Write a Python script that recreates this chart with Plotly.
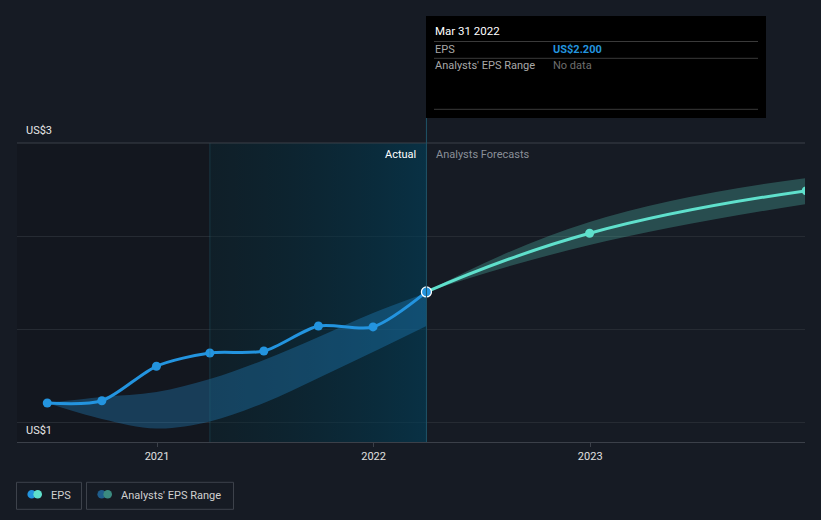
import plotly.graph_objects as go

# ---- data ----
eps_dates = ['2020-06-30', '2020-09-30', '2020-12-31', '2021-03-31',
             '2021-06-30', '2021-09-30', '2021-12-31', '2022-03-31']
eps_values = [1.143, 1.159, 1.405, 1.500, 1.514, 1.693, 1.686, 1.936]

range_low = [1.143, 1.029, 0.961, 1.011, 1.143, 1.321, 1.507, 1.693]
range_high = [1.143, 1.186, 1.221, 1.314, 1.450, 1.614, 1.786, 1.929]

fc_dates = ['2022-03-31', '2022-12-31', '2023-12-31']
fc_values = [1.936, 2.355, 2.659]
fc_low = [1.936, 2.271, 2.564]
fc_high = [1.936, 2.436, 2.750]

year_ticks = ['2021-01-01', '2022-01-01', '2023-01-01']
year_labels = ['2021', '2022', '2023']
grid_vals = [1.0, 1.6667, 2.3333, 3.0]

past_year = ['2021-03-31', '2022-03-31']
x_range = ['2020-05-10', '2023-12-29']
y_range = [0.864, 3.0]

BG = '#161b24'
BLUE = '#2394df'
MINT = '#5fe0cc'
FONT = 'Roboto'

# plot area in pixels
W, H = 821, 520
L, R, T, B = 17, 805, 143, 442


def px(x):
    return (x - L) / (R - L)


def py(y):
    return (B - y) / (B - T)


fig = go.Figure()

# last-year highlight (gradient)
fig.add_trace(go.Scatter(
    x=[past_year[0], past_year[1], past_year[1], past_year[0], past_year[0]],
    y=[y_range[0], y_range[0], y_range[1], y_range[1], y_range[0]],
    mode='none', fill='toself',
    fillgradient=dict(type='horizontal',
                      colorscale=[[0, 'rgba(0,40,50,0.30)'], [1, 'rgba(0,62,88,0.62)']]),
    hoverinfo='skip', showlegend=False
))

# analysts range (past)
fig.add_trace(go.Scatter(
    x=eps_dates, y=range_low, mode='lines',
    line=dict(width=0, shape='spline', smoothing=1),
    hoverinfo='skip', showlegend=False
))
fig.add_trace(go.Scatter(
    x=eps_dates, y=range_high, mode='lines', fill='tonexty',
    fillcolor='rgba(35,148,223,0.30)',
    line=dict(width=0, shape='spline', smoothing=1),
    hoverinfo='skip', showlegend=False
))

# forecast range
fig.add_trace(go.Scatter(
    x=fc_dates, y=fc_low, mode='lines',
    line=dict(width=0, shape='spline', smoothing=1.3),
    hoverinfo='skip', showlegend=False
))
fig.add_trace(go.Scatter(
    x=fc_dates, y=fc_high, mode='lines', fill='tonexty',
    fillcolor='rgba(88,210,190,0.28)',
    line=dict(width=0, shape='spline', smoothing=1.3),
    hoverinfo='skip', showlegend=False
))

# forecast line
fig.add_trace(go.Scatter(
    x=fc_dates, y=fc_values, mode='lines+markers',
    line=dict(color=MINT, width=3, shape='spline', smoothing=1.3),
    marker=dict(color=MINT, size=9),
    showlegend=False
))

# EPS line
fig.add_trace(go.Scatter(
    x=eps_dates, y=eps_values, mode='lines+markers',
    line=dict(color=BLUE, width=3, shape='spline', smoothing=0.8),
    marker=dict(color=BLUE, size=9),
    showlegend=False
))

# hovered point
fig.add_trace(go.Scatter(
    x=[eps_dates[-1]], y=[eps_values[-1]], mode='markers',
    marker=dict(color=BLUE, size=10, line=dict(color='white', width=1.3)),
    showlegend=False
))

shapes = [
    # darker region before last year
    dict(type='rect', xref='paper', yref='paper', x0=0, x1=px(210), y0=0, y1=1,
         fillcolor='rgba(0,0,0,0.13)', line_width=0, layer='below'),
    # faint boundary at start of last year
    dict(type='line', xref='x', yref='paper', x0=past_year[0], x1=past_year[0], y0=0, y1=1,
         line=dict(color='rgba(40,110,130,0.35)', width=1)),
    # top gridline
    dict(type='line', xref='paper', yref='paper', x0=0, x1=1, y0=1, y1=1,
         line=dict(color='#3b4049', width=1)),
    # "now" line
    dict(type='line', xref='x', yref='paper', x0=past_year[1], x1=past_year[1], y0=0, y1=py(118),
         line=dict(color='#1f5468', width=1)),
    # tooltip box
    dict(type='rect', xref='paper', yref='paper', x0=px(426), x1=px(766), y0=py(118), y1=py(16),
         fillcolor='#000000', line_width=0),
]
for yy in [41.5, 58.3, 109.3]:
    shapes.append(dict(type='line', xref='paper', yref='paper', x0=px(434), x1=px(758),
                       y0=py(yy), y1=py(yy), line=dict(color='#3a3a3a', width=1)))

# legend boxes and icons
for x0, x1 in [(16.5, 81.5), (86.5, 233.5)]:
    shapes.append(dict(type='rect', xref='paper', yref='paper', x0=px(x0), x1=px(x1),
                       y0=py(509.3), y1=py(482.3), line=dict(color='#3d424b', width=1),
                       fillcolor='rgba(0,0,0,0)'))
for cx, col in [(31.7, BLUE), (37.7, MINT), (101.7, '#1f5d8c'), (107.7, '#3b8a80')]:
    shapes.append(dict(type='circle', xref='paper', yref='paper',
                       x0=px(cx - 4.3), x1=px(cx + 4.3), y0=py(494.3 + 4.3), y1=py(494.3 - 4.3),
                       fillcolor=col, line_width=0))

ann = []


def text(x, y, s, color, size=11, anchor='left', bold=False):
    ann.append(dict(xref='paper', yref='paper', x=px(x), y=py(y), text=f'<b>{s}</b>' if bold else s,
                    showarrow=False, xanchor=anchor, yanchor='middle',
                    font=dict(family=FONT, size=size, color=color)))


text(24, 130, 'US$3', '#e8e8e8', 11)
text(24, 430, 'US$1', '#e8e8e8', 11)
text(418, 154, 'Actual', '#ffffff', 11, anchor='right')
text(434, 154, 'Analysts Forecasts', '#8a8f98', 11)
text(433, 31, 'Mar 31 2022', '#ffffff', 11.5)
text(433, 49, 'EPS', '#a8a8a8', 11)
text(551, 49, 'US$2.200', BLUE, 11, bold=True)
text(433, 66, "Analysts' EPS Range", '#a8a8a8', 11)
text(551, 66, 'No data', '#6e6e6e', 11)
text(49, 495, 'EPS', '#d0d0d0', 11)
text(119, 495, "Analysts' EPS Range", '#d0d0d0', 11)

fig.update_layout(
    width=W, height=H,
    margin=dict(l=L, r=W - R, t=T, b=H - B, pad=0),
    paper_bgcolor=BG, plot_bgcolor=BG,
    font=dict(family=FONT, color='#d0d0d0'),
    shapes=shapes, annotations=ann,
    hovermode=False,
    xaxis=dict(range=x_range, type='date', tickvals=year_ticks, ticktext=year_labels,
               showgrid=False, zeroline=False, showline=True, linecolor='#3b4049', linewidth=1,
               ticks='outside', ticklen=4, tickcolor='#3b4049',
               tickfont=dict(family=FONT, size=11, color='#e0e0e0')),
    yaxis=dict(range=y_range, tickvals=grid_vals, showticklabels=False,
               showgrid=True, gridcolor='#262b33', gridwidth=1, zeroline=False, showline=False),
)

fig.write_html('out.html', config={'displayModeBar': False},
               post_script="document.body.style.margin='0';document.body.style.background='#161b24';")
